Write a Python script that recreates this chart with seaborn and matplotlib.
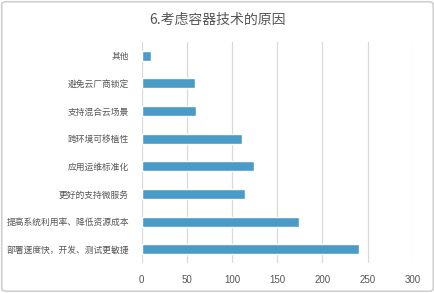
import matplotlib
matplotlib.use("Agg")
import matplotlib.pyplot as plt
import seaborn as sns
import pandas as pd
from matplotlib.patches import FancyBboxPatch

categories = ["其他", "避免云厂商锁定", "支持混合云场景", "跨环境可移植性",
              "应用运维标准化", "更好的支持微服务", "提高系统利用率、降低资源成本",
              "部署速度快，开发、测试更敏捷"]
values = [11, 59, 60, 111, 124, 114, 174, 240]
xticks = [0, 50, 100, 150, 200, 250, 300]
title = "6.考虑容器技术的原因"

sns.set_theme(style="white")
plt.rcParams['font.family'] = ['Noto Sans CJK SC', 'DejaVu Sans']

df = pd.DataFrame({"cat": categories, "val": values})

fig = plt.figure(figsize=(4.35, 2.93), dpi=100)
ax = fig.add_axes([0.3253, 0.1024, 0.9494 - 0.3253, 0.8567 - 0.1024])
sns.barplot(data=df, y="cat", x="val", orient="h", color="#4A9BC7",
            saturation=1, width=0.36, ax=ax)
ax.set_xlim(0, 300)
ax.set_xticks(xticks)
ax.set_xticklabels([str(t) for t in xticks], fontsize=7, color="#555555",
                   family=['Helvetica', 'Liberation Sans', 'DejaVu Sans'])
ax.tick_params(axis='y', labelsize=6.3, labelcolor="#555555", length=0, pad=9)
ax.tick_params(axis='x', length=0, pad=9)
ax.set_xlabel("")
ax.set_ylabel("")
for s in ax.spines.values():
    s.set_visible(False)
ax.grid(axis='x', color="#d9d9d9", linewidth=0.9)
ax.set_axisbelow(True)

fig.text(0.5, 1 - 20 / 293, title, ha="center", va="center", fontsize=10,
         color="#555555")

border = FancyBboxPatch((0.004, 0.006), 0.992, 0.988,
                        boxstyle="round,pad=0,rounding_size=0.01",
                        transform=fig.transFigure, fill=False,
                        edgecolor="#d0d0d0", linewidth=1.2)
fig.patches.append(border)

fig.savefig("out.png", dpi=100)
